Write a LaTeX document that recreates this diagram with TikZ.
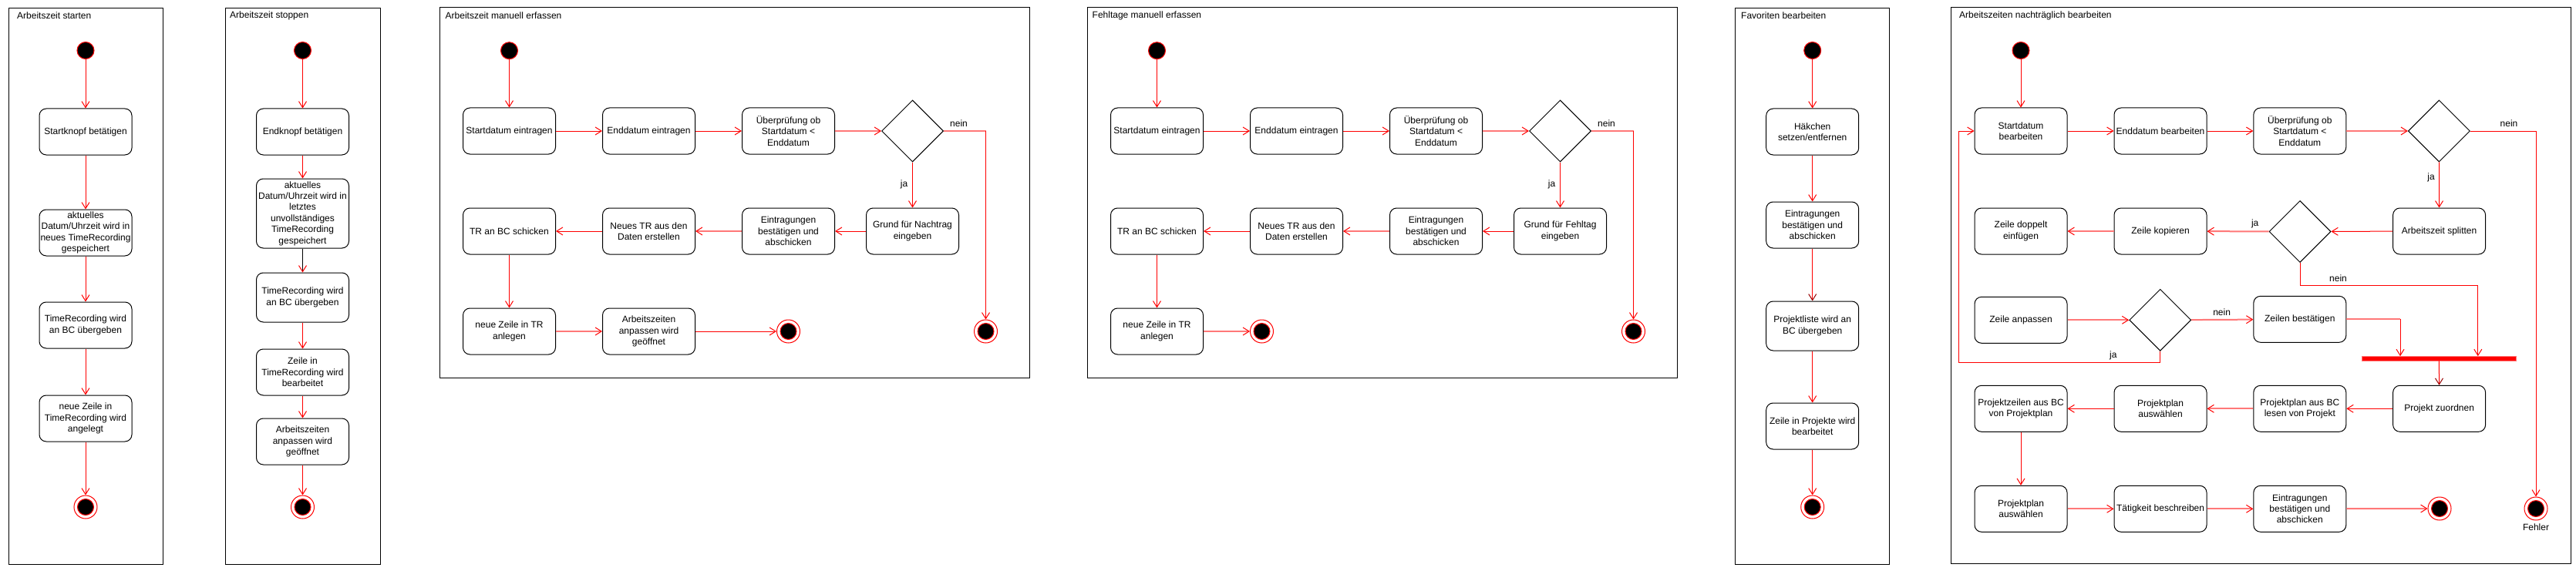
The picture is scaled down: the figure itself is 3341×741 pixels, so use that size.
\documentclass[tikz,border=0pt]{standalone}
\usepackage{fontspec}
\setmainfont{Liberation Sans}
\usetikzlibrary{arrows.meta,shapes.geometric}
\definecolor{pinkl}{RGB}{255,120,120}
\definecolor{headd}{RGB}{150,0,0}
\begin{document}
\begin{tikzpicture}[x=1pt,y=-1pt,
  every node/.style={font=\fontsize{12pt}{14.4pt}\selectfont},
  act/.style={draw=black, line width=1pt, rounded corners=9pt, minimum width=120pt, minimum height=60pt, align=center, inner sep=1pt},
  dec/.style={diamond, draw=black, line width=1pt, minimum width=80pt, minimum height=80pt, inner sep=0pt, aspect=1},
  init/.style={circle, fill=black, draw=red, line width=1pt, minimum size=22pt, inner sep=0pt},
  fin/.style={circle, fill=white, draw=red, line width=1pt, minimum size=30pt, inner sep=0pt},
  lane/.style={draw=black, line width=1pt},
  ttl/.style={anchor=west, inner sep=0pt},
  lbl/.style={inner sep=0pt},
  flow/.style={draw=red, line width=1pt, -{Straight Barb[length=8pt,width=10pt]}},
  flowp/.style={draw=pinkl, line width=2pt, -{Straight Barb[length=8pt,width=10pt,line width=1pt,color=red]}},
  flowd/.style={draw=black, line width=1pt, -{Straight Barb[length=8pt,width=10pt,color=red]}},
  flowr/.style={draw=red, line width=1pt, -{Straight Barb[length=8pt,width=10pt,color=headd]}},
  seg/.style={draw=red, line width=1pt},
  segp/.style={draw=pinkl, line width=2pt},
  bullseye/.style={fill=black, draw=red, line width=1pt},
]
\useasboundingbox (0,0) rectangle (3341,741);

% ---------------- Panel 1: Arbeitszeit starten
\draw[lane] (11,10.5) rectangle (211,732);
\node[ttl] (t1) at (22,20.5) {Arbeitszeit starten};
\node[init] (s1) at (111,65.5) {};
\node[act] (a11) at (111,171) {Startknopf betätigen};
\node[act] (a12) at (111,302) {aktuelles\\Datum/Uhrzeit wird in\\neues TimeRecording\\gespeichert};
\node[act] (a13) at (111,422) {TimeRecording wird\\an BC übergeben};
\node[act] (a14) at (111,543) {neue Zeile in\\TimeRecording wird\\angelegt};
\node[fin] (e1) at (111,658) {};
\filldraw[bullseye] (e1.center) circle[radius=10.5pt];
\draw[flow] (s1) -- (a11);
\draw[flow] (a11) -- (a12);
\draw[flow] (a12) -- (a13);
\draw[flow] (a13) -- (a14);
\draw[flow] (a14) -- (e1);

% ---------------- Panel 2: Arbeitszeit stoppen
\draw[lane] (292,10.5) rectangle (493,732);
\node[ttl] (t2) at (298,20.5) {Arbeitszeit stoppen};
\node[init] (s2) at (392.5,65.5) {};
\node[act] (a21) at (392.5,171) {Endknopf betätigen};
\node[act, minimum height=90pt] (a22) at (392.5,277) {aktuelles\\Datum/Uhrzeit wird in\\letztes\\unvollständiges\\TimeRecording\\gespeichert};
\node[act, minimum height=64pt] (a23) at (392.5,386) {TimeRecording wird\\an BC übergeben};
\node[act] (a24) at (392.5,483) {Zeile in\\TimeRecording wird\\bearbeitet};
\node[act] (a25) at (392.5,573) {Arbeitszeiten\\anpassen wird\\geöffnet};
\node[fin] (e2) at (392.5,658) {};
\filldraw[bullseye] (e2.center) circle[radius=10.5pt];
\draw[flow] (s2) -- (a21);
\draw[flow] (a21) -- (a22);
\draw[flowd] (a22) -- (a23);
\draw[flow] (a23) -- (a24);
\draw[flow] (a24) -- (a25);
\draw[flow] (a25) -- (e2);

% ---------------- Panel 3: Arbeitszeit manuell erfassen
\draw[lane] (570,10) rectangle (1335,490);
\node[ttl] (t3) at (577.5,20.5) {Arbeitszeit manuell erfassen};
\node[init] (s3) at (660.5,65.7) {};
\node[act] (a31) at (660.5,170) {Startdatum eintragen};
\node[act] (a32) at (841.5,170) {Enddatum eintragen};
\node[act] (a33) at (1022.5,170) {Überprüfung ob\\Startdatum <\\Enddatum};
\node[dec] (d3) at (1183.5,170) {};
\node[act] (a34) at (1183.5,300) {Grund für Nachtrag\\eingeben};
\node[act] (a35) at (1022.5,300) {Eintragungen\\bestätigen und\\abschicken};
\node[act] (a36) at (841.5,300) {Neues TR aus den\\Daten erstellen};
\node[act] (a37) at (660.5,300) {TR an BC schicken};
\node[act] (a38) at (660.5,430) {neue Zeile in TR\\anlegen};
\node[act] (a39) at (841.5,430) {Arbeitszeiten\\anpassen wird\\geöffnet};
\node[fin] (e3) at (1022.5,430) {};
\filldraw[bullseye] (e3.center) circle[radius=10.5pt];
\node[fin] (e3b) at (1278.5,430) {};
\filldraw[bullseye] (e3b.center) circle[radius=10.5pt];
\coordinate (n3) at (1278.5,170);
\node[lbl] (l3n) at (1243.5,160) {nein};
\node[lbl] (l3j) at (1172.5,239) {ja};
\draw[flow] (s3) -- (a31);
\draw[flow] (a31) -- (a32);
\draw[flow] (a32) -- (a33);
\draw[flowp] (a33) -- (d3);
\draw[segp] (d3.east) -- (n3);
\draw[flow] (n3) -- (e3b);
\draw[flow] (d3) -- (a34);
\draw[flow] (a34) -- (a35);
\draw[flowp] (a35) -- (a36);
\draw[flow] (a36) -- (a37);
\draw[flow] (a37) -- (a38);
\draw[flowp] (a38) -- (a39);
\draw[flow] (a39) -- (e3);

% ---------------- Panel 4: Fehltage manuell erfassen
\draw[lane] (1410,10) rectangle (2175,490);
\node[ttl] (t4) at (1416.5,20.5) {Fehltage manuell erfassen};
\node[init] (s4) at (1500.5,65.7) {};
\node[act] (a41) at (1500.5,170) {Startdatum eintragen};
\node[act] (a42) at (1681.5,170) {Enddatum eintragen};
\node[act] (a43) at (1862.5,170) {Überprüfung ob\\Startdatum <\\Enddatum};
\node[dec] (d4) at (2023.5,170) {};
\node[act] (a44) at (2023.5,300) {Grund für Fehltag\\eingeben};
\node[act] (a45) at (1862.5,300) {Eintragungen\\bestätigen und\\abschicken};
\node[act] (a46) at (1681.5,300) {Neues TR aus den\\Daten erstellen};
\node[act] (a47) at (1500.5,300) {TR an BC schicken};
\node[act] (a48) at (1500.5,430) {neue Zeile in TR\\anlegen};
\node[fin] (e4) at (1636.5,430) {};
\filldraw[bullseye] (e4.center) circle[radius=10.5pt];
\node[fin] (e4b) at (2118.5,430) {};
\filldraw[bullseye] (e4b.center) circle[radius=10.5pt];
\coordinate (n4) at (2118.5,170);
\node[lbl] (l4n) at (2083.5,160) {nein};
\node[lbl] (l4j) at (2012.5,239) {ja};
\draw[flow] (s4) -- (a41);
\draw[flow] (a41) -- (a42);
\draw[flow] (a42) -- (a43);
\draw[flowp] (a43) -- (d4);
\draw[segp] (d4.east) -- (n4);
\draw[flow] (n4) -- (e4b);
\draw[flow] (d4) -- (a44);
\draw[flow] (a44) -- (a45);
\draw[flowp] (a45) -- (a46);
\draw[flow] (a46) -- (a47);
\draw[flow] (a47) -- (a48);
\draw[flowp] (a48) -- (e4);

% ---------------- Panel 5: Favoriten bearbeiten
\draw[lane] (2250.7,10.5) rectangle (2450.7,732);
\node[ttl] (t5) at (2258,20.5) {Favoriten bearbeiten};
\node[init] (s5) at (2350.7,65.5) {};
\node[act] (a51) at (2350.7,171) {Häkchen\\setzen/entfernen};
\node[act] (a52) at (2350.7,292) {Eintragungen\\bestätigen und\\abschicken};
\node[act, minimum height=64pt] (a53) at (2350.7,423) {Projektliste wird an\\BC übergeben};
\node[act] (a54) at (2350.7,553) {Zeile in Projekte wird\\bearbeitet};
\node[fin] (e5) at (2350.7,658) {};
\filldraw[bullseye] (e5.center) circle[radius=10.5pt];
\draw[flow] (s5) -- (a51);
\draw[flow] (a51) -- (a52);
\draw[flowr] (a52) -- (a53);
\draw[flow] (a53) -- (a54);
\draw[flow] (a54) -- (e5);

% ---------------- Panel 6: Arbeitszeiten nachträglich bearbeiten
\draw[lane] (2530.5,10) rectangle (3334.7,731);
\node[ttl] (t6) at (2541,20.5) {Arbeitszeiten nachträglich bearbeiten};
\node[init] (s6) at (2621,65.5) {};
% row 1
\node[act] (b11) at (2621,170) {Startdatum\\bearbeiten};
\node[act] (b12) at (2802,170) {Enddatum bearbeiten};
\node[act] (b13) at (2982.8,170) {Überprüfung ob\\Startdatum <\\Enddatum};
\node[dec] (d61) at (3163.4,170) {};
% row 2
\node[act] (b24) at (3163.6,300) {Arbeitszeit splitten};
\node[dec] (d62) at (2983,300.5) {};
\node[act] (b22) at (2802,300) {Zeile kopieren};
\node[act] (b21) at (2621,300) {Zeile doppelt\\einfügen};
% row 3
\node[act] (b31) at (2621,415.3) {Zeile anpassen};
\node[dec] (d63) at (2801.7,415.3) {};
\node[act] (b33) at (2982.8,414.3) {Zeilen bestätigen};
\node[fill=red, draw=pinkl, line width=0.8pt, minimum width=200pt, minimum height=5.5pt, inner sep=0pt] (bar) at (3163.4,465.3) {};
% row 4
\node[act] (b44) at (3163.6,530.3) {Projekt zuordnen};
\node[act] (b43) at (2982.8,530.3) {Projektplan aus BC\\lesen von Projekt};
\node[act] (b42) at (2802,530.3) {Projektplan\\auswählen};
\node[act] (b41) at (2621,530.3) {Projektzeilen aus BC\\von Projektplan};
% row 5
\node[act] (b51) at (2621,660.3) {Projektplan\\auswählen};
\node[act] (b52) at (2802,660.3) {Tätigkeit beschreiben};
\node[act] (b53) at (2982.8,660.3) {Eintragungen\\bestätigen und\\abschicken};
\node[fin] (e6) at (3164,660) {};
\filldraw[bullseye] (e6.center) circle[radius=10.5pt];
\node[fin] (e6f) at (3289,660) {};
\filldraw[bullseye] (e6f.center) circle[radius=10.5pt];
\node[lbl] (fl) at (3289,684) {Fehler};
% labels
\node[lbl] (l61n) at (3254,160) {nein};
\node[lbl] (l61j) at (3153,230) {ja};
\node[lbl] (l62j) at (2924.7,290) {ja};
\node[lbl] (l62n) at (3032.5,361.7) {nein};
\node[lbl] (l63n) at (2881.6,405) {nein};
\node[lbl] (l63j) at (2740.8,461.7) {ja};
% helper coordinates
\coordinate (c62) at (3213.8,370);
\coordinate (c63) at (2540,470);
\coordinate (c33) at (3113,414.3);
% connectors
\draw[flow] (s6) -- (b11);
\draw[flow] (b11) -- (b12);
\draw[flow] (b12) -- (b13);
\draw[flowp] (b13) -- (d61);
\draw[flow] (d61.east) -| (e6f);
\draw[flow] (d61) -- (b24);
\draw[flow] (b24) -- (d62);
\draw[flowp] (d62) -- (b22);
\draw[flowp] (b22) -- (b21);
\draw[seg] (d62.south) |- (c62);
\draw[flow] (c62) -- (bar.north -| c62);
\draw[flowp] (b31) -- (d63);
\draw[flowp] (d63) -- (b33);
\draw[segp] (b33.east) -- (c33);
\draw[flow] (c33) -- (bar.north -| c33);
\draw[flow] (d63.south) |- (c63) |- (b11.west);
\draw[flowr] (bar) -- (b44);
\draw[flow] (b44) -- (b43);
\draw[flowp] (b43) -- (b42);
\draw[flow] (b42) -- (b41);
\draw[flow] (b41) -- (b51);
\draw[flowp] (b51) -- (b52);
\draw[flowp] (b52) -- (b53);
\draw[flowp] (b53) -- (e6);
\end{tikzpicture}
\end{document}
